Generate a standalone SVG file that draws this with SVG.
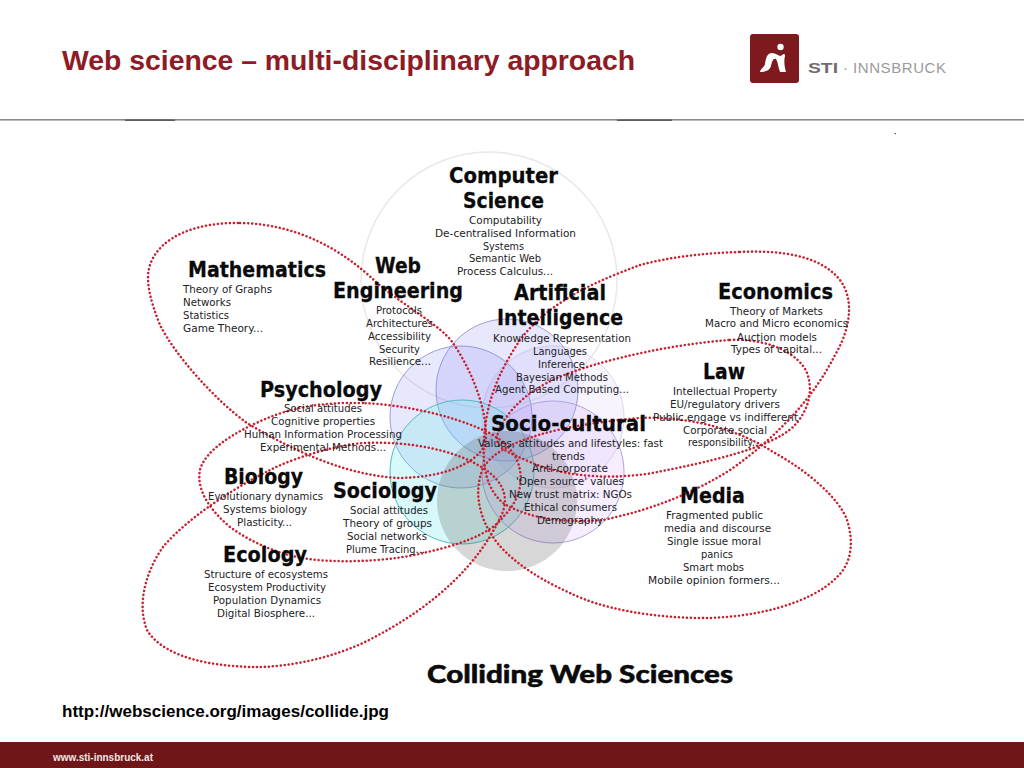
<svg xmlns="http://www.w3.org/2000/svg" width="1024" height="768" viewBox="0 0 1024 768">
<style>
text{font-family:"DejaVu Sans","Liberation Sans",sans-serif;fill:#222226}
.b{font-size:11px}
.h{font-size:22px;font-weight:700;fill:#0a0a0a;stroke:#0a0a0a;stroke-width:.3}
.p{fill:none;stroke:#c8202e;stroke-width:2.5;stroke-linecap:round;stroke-dasharray:0.1 3.9}
.s{font-family:"Liberation Sans",Arial,sans-serif}
</style>
<rect width="1024" height="768" fill="#fff"/>
<g id="header">
<text class="s" x="62" y="70" font-size="28.5" font-weight="700" style="fill:#8e1b25" textLength="573" lengthAdjust="spacingAndGlyphs">Web science – multi-disciplinary approach</text>
<rect x="750" y="34" width="49" height="49" rx="3" fill="#7e191d"/>
<circle cx="780.5" cy="47" r="3.2" fill="#fff"/>
<path d="M760,72 C760,69 764,68 765,64 C766,58 767,53 772,53 C776,53 778,56 781,56 C783,54 785,53 785,56 C784,60 784,65 786,72 L780,72 C778,67 778,62 776,59 C773,58 772,62 771,66 C770,70 766,72 760,72Z" fill="#fff"/>
<text class="s" x="808" y="72.5" font-size="15" font-weight="700" style="fill:#6e6e70" textLength="30" lengthAdjust="spacingAndGlyphs">STI</text>
<text class="s" x="843" y="72.5" font-size="15" style="fill:#98989a">·</text>
<text class="s" x="853" y="72.5" font-size="15" style="fill:#9a9a9c" textLength="93" lengthAdjust="spacing">INNSBRUCK</text>
<rect x="0" y="119" width="1024" height="1.6" fill="#8a8a8a"/>
<rect x="125" y="119.5" width="50" height="1.4" fill="#555"/>
<rect x="617" y="119.5" width="55" height="1.4" fill="#555"/>
<rect x="894.5" y="133" width="1.4" height="1.2" fill="#555"/>
</g>
<g id="circles">
<circle id="c-computer-science" cx="489" cy="280" r="128" fill="#fff" stroke="#e8e8e6" stroke-width="1.5"/>
<circle id="c-right" cx="553" cy="417" r="71" fill="#e4dcf8" fill-opacity=".3" stroke="#dcd8f0"/>
<circle id="c-ai" cx="507" cy="390" r="71" fill="#8a8af6" fill-opacity=".2" stroke="#8484cc" stroke-opacity=".8"/>
<circle id="c-web" cx="461" cy="417" r="71" fill="#8a8af6" fill-opacity=".2" stroke="#8484cc" stroke-opacity=".8"/>
<circle id="c-sociology" cx="462" cy="472" r="72" fill="#66e6e6" fill-opacity=".26" stroke="#50bcc4"/>
<circle id="c-socio" cx="553" cy="472" r="71" fill="#d0a8f8" fill-opacity=".2" stroke="#b0a4dc"/>
<circle id="c-bottom" cx="507" cy="501" r="70" fill="#585858" fill-opacity=".24"/>
</g>
<g id="connectors">
<path class="p" d="M240,223 C300,224 345,252 377,283 C410,310 440,325 453,343 C475,375 490,420 485,445 C475,465 440,478 397,478 C350,475 300,455 247,423 C215,400 175,355 160,325 C150,300 145,280 150,265 C160,235 200,222 240,223Z"/>
<path class="p" d="M740,252 C780,250 820,255 840,280 C855,300 850,330 835,355 C815,395 780,435 730,470 C690,495 650,510 603,520 C570,523 530,520 503,503 C488,490 482,470 484,440 C486,400 500,370 520,340 C550,300 600,280 640,265 C670,257 705,253 740,252Z"/>
<path class="p" d="M730,340 C770,338 800,355 807,373 C815,395 805,415 793,427 C770,448 710,462 647,474 C600,480 560,475 530,462 C510,453 495,448 497,437 C500,420 520,398 540,387 C570,367 660,345 730,340Z"/>
<path class="p" d="M703,618 C650,618 600,608 570,593 C530,575 505,555 493,537 C478,515 474,490 483,468 C500,440 560,425 640,418 C690,416 740,430 773,452 C810,472 840,500 847,520 C855,545 850,565 837,577 C810,605 750,618 703,618Z"/>
<path class="p" d="M363,403 C320,402 290,408 263,420 C235,432 205,450 200,470 C196,490 210,510 230,527 C255,545 285,557 317,560 C355,563 395,560 423,553 C455,546 490,535 503,517 C520,500 525,480 517,460 C510,445 495,435 483,430 C450,415 405,405 363,403Z"/>
<path class="p" d="M257,667 C220,667 165,660 147,630 C135,600 150,565 163,547 C190,515 240,485 270,470 C300,455 340,445 363,443 C410,441 455,450 483,468 C505,482 510,500 500,518 C480,560 440,605 363,643 C330,658 290,667 257,667Z"/>
</g>
<g id="computer-science">
<text class="h" x="449" y="183" textLength="109" lengthAdjust="spacingAndGlyphs">Computer</text>
<text class="h" x="463" y="208" textLength="81" lengthAdjust="spacingAndGlyphs">Science</text>
<text class="b" x="469" y="224" textLength="73" lengthAdjust="spacingAndGlyphs">Computability</text>
<text class="b" x="435" y="237" textLength="141" lengthAdjust="spacingAndGlyphs">De-centralised Information</text>
<text class="b" x="483" y="250" textLength="41" lengthAdjust="spacingAndGlyphs">Systems</text>
<text class="b" x="469" y="262" textLength="72" lengthAdjust="spacingAndGlyphs">Semantic Web</text>
<text class="b" x="457" y="275" textLength="96" lengthAdjust="spacingAndGlyphs">Process Calculus...</text>
</g>
<g id="web-engineering">
<text class="h" x="375" y="273" textLength="46" lengthAdjust="spacingAndGlyphs">Web</text>
<text class="h" x="333" y="298" textLength="130" lengthAdjust="spacingAndGlyphs">Engineering</text>
<text class="b" x="376" y="314" textLength="46" lengthAdjust="spacingAndGlyphs">Protocols</text>
<text class="b" x="366" y="327" textLength="67" lengthAdjust="spacingAndGlyphs">Architectures</text>
<text class="b" x="368" y="340" textLength="63" lengthAdjust="spacingAndGlyphs">Accessibility</text>
<text class="b" x="379" y="353" textLength="41" lengthAdjust="spacingAndGlyphs">Security</text>
<text class="b" x="369" y="365" textLength="62" lengthAdjust="spacingAndGlyphs">Resilience...</text>
</g>
<g id="mathematics">
<text class="h" x="188" y="277" textLength="138" lengthAdjust="spacingAndGlyphs">Mathematics</text>
<text class="b" x="183" y="293" textLength="89" lengthAdjust="spacingAndGlyphs">Theory of Graphs</text>
<text class="b" x="183" y="306" textLength="48" lengthAdjust="spacingAndGlyphs">Networks</text>
<text class="b" x="183" y="319" textLength="46" lengthAdjust="spacingAndGlyphs">Statistics</text>
<text class="b" x="183" y="332" textLength="80" lengthAdjust="spacingAndGlyphs">Game Theory...</text>
</g>
<g id="psychology">
<text class="h" x="260" y="397" textLength="122" lengthAdjust="spacingAndGlyphs">Psychology</text>
<text class="b" x="284" y="412" textLength="78" lengthAdjust="spacingAndGlyphs">Social attitudes</text>
<text class="b" x="271" y="425" textLength="104" lengthAdjust="spacingAndGlyphs">Cognitive properties</text>
<text class="b" x="244" y="438" textLength="158" lengthAdjust="spacingAndGlyphs">Human Information Processing</text>
<text class="b" x="260" y="451" textLength="126" lengthAdjust="spacingAndGlyphs">Experimental Methods...</text>
</g>
<g id="biology">
<text class="h" x="224" y="484" textLength="79" lengthAdjust="spacingAndGlyphs">Biology</text>
<text class="b" x="208" y="500" textLength="115" lengthAdjust="spacingAndGlyphs">Evolutionary dynamics</text>
<text class="b" x="223" y="513" textLength="84" lengthAdjust="spacingAndGlyphs">Systems biology</text>
<text class="b" x="237" y="526" textLength="55" lengthAdjust="spacingAndGlyphs">Plasticity...</text>
</g>
<g id="sociology">
<text class="h" x="333" y="498" textLength="104" lengthAdjust="spacingAndGlyphs">Sociology</text>
<text class="b" x="350" y="514" textLength="78" lengthAdjust="spacingAndGlyphs">Social attitudes</text>
<text class="b" x="343" y="527" textLength="89" lengthAdjust="spacingAndGlyphs">Theory of groups</text>
<text class="b" x="347" y="540" textLength="80" lengthAdjust="spacingAndGlyphs">Social networks</text>
<text class="b" x="346" y="553" textLength="79" lengthAdjust="spacingAndGlyphs">Plume Tracing...</text>
</g>
<g id="ecology">
<text class="h" x="223" y="562" textLength="84" lengthAdjust="spacingAndGlyphs">Ecology</text>
<text class="b" x="204" y="578" textLength="124" lengthAdjust="spacingAndGlyphs">Structure of ecosystems</text>
<text class="b" x="208" y="591" textLength="118" lengthAdjust="spacingAndGlyphs">Ecosystem Productivity</text>
<text class="b" x="213" y="604" textLength="108" lengthAdjust="spacingAndGlyphs">Population Dynamics</text>
<text class="b" x="217" y="617" textLength="98" lengthAdjust="spacingAndGlyphs">Digital Biosphere...</text>
</g>
<g id="artificial-intelligence">
<text class="h" x="514" y="300" textLength="92" lengthAdjust="spacingAndGlyphs">Artificial</text>
<text class="h" x="497" y="325" textLength="126" lengthAdjust="spacingAndGlyphs">Intelligence</text>
<text class="b" x="493" y="342" textLength="138" lengthAdjust="spacingAndGlyphs">Knowledge Representation</text>
<text class="b" x="533" y="355" textLength="54" lengthAdjust="spacingAndGlyphs">Languages</text>
<text class="b" x="538" y="368" textLength="47" lengthAdjust="spacingAndGlyphs">Inference</text>
<text class="b" x="516" y="381" textLength="92" lengthAdjust="spacingAndGlyphs">Bayesian Methods</text>
<text class="b" x="495" y="393" textLength="134" lengthAdjust="spacingAndGlyphs">Agent Based Computing...</text>
</g>
<g id="economics">
<text class="h" x="718" y="299" textLength="115" lengthAdjust="spacingAndGlyphs">Economics</text>
<text class="b" x="730" y="315" textLength="93" lengthAdjust="spacingAndGlyphs">Theory of Markets</text>
<text class="b" x="705" y="327" textLength="143" lengthAdjust="spacingAndGlyphs">Macro and Micro economics</text>
<text class="b" x="737" y="341" textLength="80" lengthAdjust="spacingAndGlyphs">Auction models</text>
<text class="b" x="731" y="353" textLength="91" lengthAdjust="spacingAndGlyphs">Types of capital...</text>
</g>
<g id="law">
<text class="h" x="703" y="379" textLength="42" lengthAdjust="spacingAndGlyphs">Law</text>
<text class="b" x="673" y="395" textLength="104" lengthAdjust="spacingAndGlyphs">Intellectual Property</text>
<text class="b" x="670" y="408" textLength="110" lengthAdjust="spacingAndGlyphs">EU/regulatory drivers</text>
<text class="b" x="653" y="421" textLength="145" lengthAdjust="spacingAndGlyphs">Public engage vs indifferent</text>
<text class="b" x="683" y="434" textLength="84" lengthAdjust="spacingAndGlyphs">Corporate social</text>
<text class="b" x="688" y="446" textLength="73" lengthAdjust="spacingAndGlyphs">responsibility...</text>
</g>
<g id="socio-cultural">
<text class="h" x="491" y="431" textLength="155" lengthAdjust="spacingAndGlyphs">Socio-cultural</text>
<text class="b" x="478" y="447" textLength="185" lengthAdjust="spacingAndGlyphs">Values, attitudes and lifestyles: fast</text>
<text class="b" x="552" y="460" textLength="33" lengthAdjust="spacingAndGlyphs">trends</text>
<text class="b" x="532" y="472" textLength="76" lengthAdjust="spacingAndGlyphs">Anti-corporate</text>
<text class="b" x="516" y="485" textLength="108" lengthAdjust="spacingAndGlyphs">'Open source' values</text>
<text class="b" x="509" y="498" textLength="123" lengthAdjust="spacingAndGlyphs">New trust matrix: NGOs</text>
<text class="b" x="524" y="511" textLength="93" lengthAdjust="spacingAndGlyphs">Ethical consumers</text>
<text class="b" x="537" y="524" textLength="66" lengthAdjust="spacingAndGlyphs">Demography</text>
</g>
<g id="media">
<text class="h" x="680" y="503" textLength="65" lengthAdjust="spacingAndGlyphs">Media</text>
<text class="b" x="666" y="519" textLength="97" lengthAdjust="spacingAndGlyphs">Fragmented public</text>
<text class="b" x="664" y="532" textLength="107" lengthAdjust="spacingAndGlyphs">media and discourse</text>
<text class="b" x="667" y="545" textLength="94" lengthAdjust="spacingAndGlyphs">Single issue moral</text>
<text class="b" x="701" y="558" textLength="32" lengthAdjust="spacingAndGlyphs">panics</text>
<text class="b" x="683" y="571" textLength="61" lengthAdjust="spacingAndGlyphs">Smart mobs</text>
<text class="b" x="648" y="584" textLength="132" lengthAdjust="spacingAndGlyphs">Mobile opinion formers...</text>
</g>
<g id="caption">
<text x="427" y="683" font-size="25" font-weight="900" style="font-family:Lato,'DejaVu Sans',sans-serif;fill:#0a0a0a;stroke:#0a0a0a;stroke-width:.5" textLength="306" lengthAdjust="spacingAndGlyphs">Colliding Web Sciences</text>
<text class="s" x="62" y="717" font-size="16.5" font-weight="700" style="fill:#000" textLength="327" lengthAdjust="spacingAndGlyphs">http://webscience.org/images/collide.jpg</text>
</g>
<g id="footer">
<rect x="0" y="742" width="1024" height="26" fill="#6f1718"/>
<text class="s" x="53" y="761" font-size="10" font-weight="700" style="fill:#f2e6e6" textLength="100" lengthAdjust="spacingAndGlyphs">www.sti-innsbruck.at</text>
</g>
</svg>
